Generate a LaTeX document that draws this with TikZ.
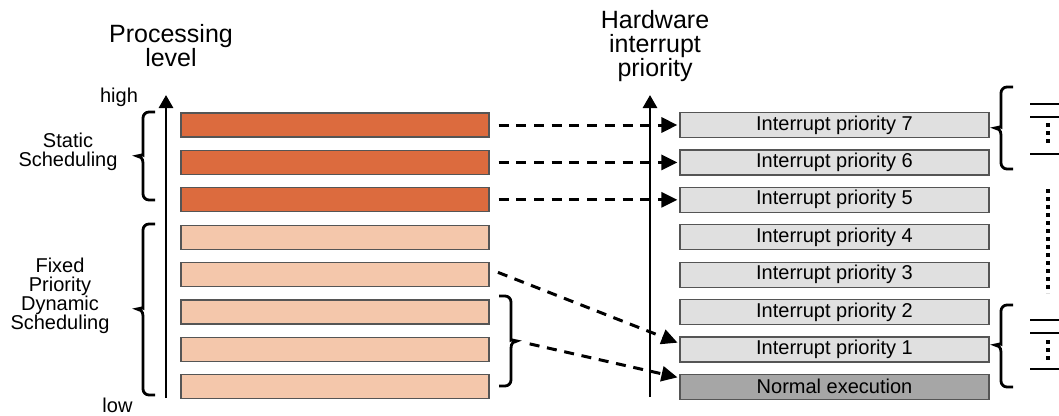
\documentclass[tikz,border=0pt]{standalone}
\usepackage{fontspec}
\setmainfont{Liberation Sans}
\usetikzlibrary{arrows.meta,calc}
\definecolor{darkor}{HTML}{DC6B3E}
\definecolor{lightor}{HTML}{F4C7AB}
\definecolor{irgrey}{HTML}{E0E0E0}
\definecolor{negrey}{HTML}{A6A6A6}
\definecolor{boxborder}{HTML}{555555}
\newcommand{\mybrace}[5]{%
  \draw[bracestyle] ({#1+18*#5},#2) [rounded corners=6pt] -- ({#1+6*#5},#2) -- ({#1+6*#5},{#4-7}) [sharp corners]
    .. controls ({#1+6*#5},{#4-2}) and ({#1+3*#5},#4) .. (#1,#4)
    .. controls ({#1+3*#5},#4) and ({#1+6*#5},{#4+2}) .. ({#1+6*#5},{#4+7})
    [rounded corners=6pt] -- ({#1+6*#5},#3) -- ({#1+18*#5},#3);}
\begin{document}
\begin{tikzpicture}[x=1pt,y=-1pt,
  box/.style={draw=boxborder, line width=1.2pt, minimum width=308pt, minimum height=24pt, inner sep=0pt, anchor=center, font=\fontsize{20}{20}\selectfont},
  hi/.style={box, fill=darkor},
  lo/.style={box, fill=lightor},
  ir/.style={box, fill=irgrey, minimum width=309pt, minimum height=25pt},
  ne/.style={box, fill=negrey, minimum width=309pt, minimum height=25pt},
  dasharrow/.style={line width=3pt, dash pattern=on 10pt off 7.7pt, -{Triangle[length=16pt,width=15pt]}, shorten <=9pt, shorten >=2pt},
  axis/.style={line width=2.8pt, -{Triangle[length=13pt,width=14pt]}},
  bracestyle/.style={line width=2.8pt},
  rline/.style={line width=2.8pt},
  dots/.style={line width=4pt, dash pattern=on 4pt off 4pt},
  title/.style={font=\fontsize{25}{24}\selectfont, align=center, inner sep=0pt},
  lab/.style={font=\fontsize{20}{19}\selectfont, align=center, inner sep=0pt}
]
\useasboundingbox (0,0) rectangle (1059,415);

% axes
\coordinate (la0) at (166,398);
\coordinate (la1) at (166,95);
\coordinate (ra0) at (650,397);
\coordinate (ra1) at (650,95);
\draw[axis] (la0) -- (la1);
\draw[axis] (ra0) -- (ra1);

% left boxes
\node[hi] (L1) at (335,125) {};
\node[hi] (L2) at (335,162.4) {};
\node[hi] (L3) at (335,199.8) {};
\node[lo] (L4) at (335,237.2) {};
\node[lo] (L5) at (335,274.6) {};
\node[lo] (L6) at (335,312) {};
\node[lo] (L7) at (335,349.4) {};
\node[lo] (L8) at (335,386.8) {};

% right boxes
\node[ir] (R1) at (834.5,125) {Interrupt priority 7};
\node[ir] (R2) at (834.5,162.4) {Interrupt priority 6};
\node[ir] (R3) at (834.5,199.8) {Interrupt priority 5};
\node[ir] (R4) at (834.5,237.2) {Interrupt priority 4};
\node[ir] (R5) at (834.5,274.6) {Interrupt priority 3};
\node[ir] (R6) at (834.5,312) {Interrupt priority 2};
\node[ir] (R7) at (834.5,349.4) {Interrupt priority 1};
\node[ne] (R8) at (834.5,386.8) {Normal execution};

% titles and labels
\node[title] (tp) at (171,46) {Processing\\level};
\node[title] (th) at (655,46.5) {Hardware\\interrupt\\priority};
\node[lab] (hi) at (119,97) {high};
\node[lab] (lw) at (117.5,405) {low};
\node[lab] (ss) at (68,152) {Static\\Scheduling};
\node[lab] (fp) at (60,296) {Fixed\\Priority\\Dynamic\\Scheduling};

% braces
\mybrace{137}{112}{200}{156}{1}
\mybrace{137}{224}{395}{309}{1}
\mybrace{995}{87}{169}{128}{1}
\mybrace{995}{305}{387}{345}{1}
\mybrace{517}{296}{386}{341}{-1}
\coordinate (mb) at (517,341);

% arrows
\draw[dasharrow] (L1.east) -- (R1.west);
\draw[dasharrow] (L2.east) -- (R2.west);
\draw[dasharrow] (L3.east) -- (R3.west);
\draw[dasharrow] ($(L5.east)+(0,-5.5)$) -- ($(R7.west)+(0,-6)$);
\draw[dasharrow, shorten <=13pt] (mb) -- ($(R8.west)+(0,-9)$);

% right-side marks
\draw[rline] (1030,104) -- (1060,104);
\draw[rline] (1030,117) -- (1060,117);
\draw[rline] (1030,154) -- (1060,154);
\draw[dots] (1048,123) -- (1048,143);
\draw[dots] (1048,189) -- (1048,293);
\draw[rline] (1030,320) -- (1060,320);
\draw[rline] (1030,333) -- (1060,333);
\draw[rline] (1030,369) -- (1060,369);
\draw[dots] (1048,340) -- (1048,362);
\end{tikzpicture}
\end{document}
